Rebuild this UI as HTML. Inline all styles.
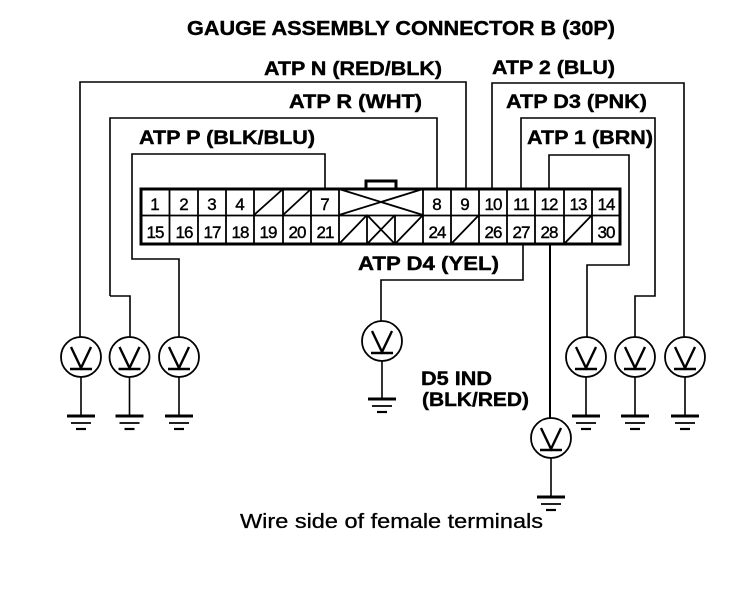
<!DOCTYPE html>
<html><head><meta charset="utf-8"><style>
html,body{margin:0;padding:0;background:#fff;width:752px;height:604px;overflow:hidden}
svg{display:block}
text{font-family:"Liberation Sans",sans-serif;fill:#000}
.b{font-weight:bold;font-size:19px;stroke:#000;stroke-width:.4px}
.t{font-weight:bold;font-size:20px;stroke:#000;stroke-width:.4px}
.n{font-size:17px;text-anchor:middle;stroke:#000;stroke-width:.4px}
.w{fill:none;stroke:#000;stroke-width:1.6}
.c{fill:none;stroke:#000;stroke-width:3}
.d{fill:none;stroke:#000;stroke-width:1.8}
</style></head><body>
<svg width="752" height="604" viewBox="0 0 752 604" xmlns="http://www.w3.org/2000/svg">
<defs>
<g id="v">
<circle cx="0" cy="0" r="20" fill="#fff" stroke="#000" stroke-width="1.8"/>
<path d="M-10-10 L0 11 L10-10 M-11 12 H11" fill="none" stroke="#000" stroke-width="2.4"/>
</g>
<g id="g">
<path d="M-14 0 H14" stroke="#000" stroke-width="3"/>
<path d="M-10 7 H10" stroke="#000" stroke-width="1.8"/>
<path d="M-5 13 H5" stroke="#000" stroke-width="2.2"/>
</g>
</defs>

<text class="t" x="187" y="35" textLength="428" lengthAdjust="spacingAndGlyphs">GAUGE ASSEMBLY CONNECTOR B (30P)</text>
<text class="b" x="264" y="75" textLength="178" lengthAdjust="spacingAndGlyphs">ATP N (RED/BLK)</text>
<text class="b" x="289" y="108" textLength="133" lengthAdjust="spacingAndGlyphs">ATP R (WHT)</text>
<text class="b" x="139" y="144" textLength="176" lengthAdjust="spacingAndGlyphs">ATP P (BLK/BLU)</text>
<text class="b" x="492" y="74" textLength="123" lengthAdjust="spacingAndGlyphs">ATP 2 (BLU)</text>
<text class="b" x="506" y="108" textLength="141" lengthAdjust="spacingAndGlyphs">ATP D3 (PNK)</text>
<text class="b" x="527" y="144" textLength="126" lengthAdjust="spacingAndGlyphs">ATP 1 (BRN)</text>
<text class="b" x="358" y="270" textLength="141" lengthAdjust="spacingAndGlyphs">ATP D4 (YEL)</text>
<text class="b" x="421" y="385" textLength="71" lengthAdjust="spacingAndGlyphs">D5 IND</text>
<text class="b" x="422" y="406" textLength="107" lengthAdjust="spacingAndGlyphs">(BLK/RED)</text>
<text x="240" y="528" font-size="20" stroke="#000" stroke-width=".3" textLength="303" lengthAdjust="spacingAndGlyphs">Wire side of female terminals</text>

<!-- wires -->
<path class="w" d="M80 337 V82 H466 V189"/>
<path class="w" d="M110 296 V118 H437 V189 M110 296 H130 V337"/>
<path class="w" d="M325 189 V154 H132 V259 H179 V337"/>
<path class="w" d="M492 189 V83 H684 V337"/>
<path class="w" d="M521 189 V118 H655 V296 H635 V337" />
<path class="w" d="M549 189 V155 H629 V265 H587 V337"/>
<path class="w" d="M523 244 V280 H381 V321"/>
<path class="w" d="M550 244 V418" style="stroke-width:2"/>

<!-- connector -->
<rect x="141" y="189" width="479" height="55" fill="none" stroke="#000" stroke-width="3"/>
<path class="c" d="M366 189 V181 H396 V189" />
<path class="d" d="M141 215.500 H620 M169.500 189 V244 M198 189 V244 M226 189 V244 M254 189 V244 M283 189 V244 M311 189 V244 M339 189 V244 M423 189 V244 M451 189 V244 M479 189 V244 M507 189 V244 M535 189 V244 M564 189 V244 M592 189 V244 M367 215 V244 M395 215 V244"/>
<path class="d" d="M254 215 L283 189 M283 215 L311 189 M339 189 L423 215 M339 215 L423 189 M339 244 L367 215 M367 215 L395 244 M367 244 L395 215 M395 244 L423 215 M451 244 L479 215 M564 244 L592 215"/>

<!-- pin numbers -->
<text class="n" x="155" y="210">1</text><text class="n" x="184" y="210">2</text><text class="n" x="212" y="210">3</text><text class="n" x="240" y="210">4</text><text class="n" x="325" y="210">7</text>
<text class="n" x="437" y="210">8</text><text class="n" x="465" y="210">9</text>
<g letter-spacing="-1">
<text class="n" x="493" y="210">10</text><text class="n" x="521" y="210">11</text><text class="n" x="549" y="210">12</text><text class="n" x="578" y="210">13</text><text class="n" x="606" y="210">14</text>
<text class="n" x="155" y="238">15</text><text class="n" x="184" y="238">16</text><text class="n" x="212" y="238">17</text><text class="n" x="240" y="238">18</text><text class="n" x="268" y="238">19</text><text class="n" x="297" y="238">20</text><text class="n" x="325" y="238">21</text>
<text class="n" x="437" y="238">24</text><text class="n" x="493" y="238">26</text><text class="n" x="521" y="238">27</text><text class="n" x="549" y="238">28</text><text class="n" x="606" y="238">30</text>
</g>

<!-- ground leads -->
<path class="w" d="M81 377 V416 M129.500 377 V416 M179 377 V416 M586 377 V416 M635 377 V416 M685 377 V416 M382 361 V399 M551 458 V497"/>

<!-- meters -->
<use href="#v" x="81" y="357"/><use href="#v" x="129.500" y="357"/><use href="#v" x="179" y="357"/>
<use href="#v" x="586" y="357"/><use href="#v" x="635" y="357"/><use href="#v" x="685" y="357"/>
<use href="#v" x="382" y="341"/><use href="#v" x="551" y="438"/>

<!-- grounds -->
<use href="#g" x="81" y="416"/><use href="#g" x="129.500" y="416"/><use href="#g" x="179" y="416"/>
<use href="#g" x="586" y="416"/><use href="#g" x="635" y="416"/><use href="#g" x="685" y="416"/>
<use href="#g" x="382" y="399"/><use href="#g" x="551" y="497"/>
</svg>
</body></html>
